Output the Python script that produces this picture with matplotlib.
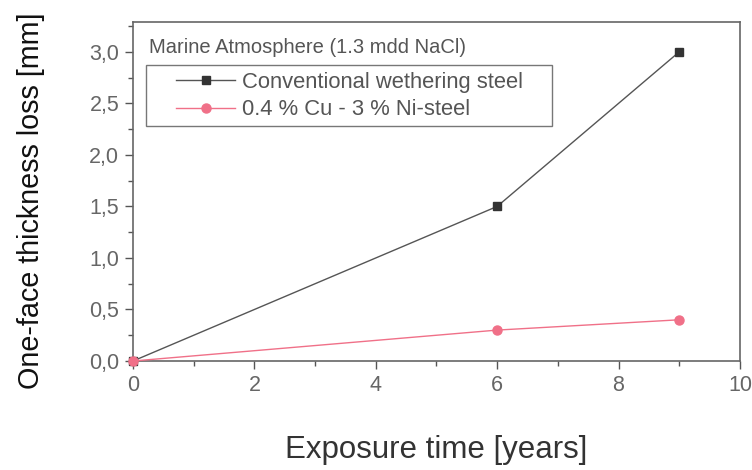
import matplotlib
matplotlib.use("Agg")
import matplotlib.pyplot as plt
from matplotlib.ticker import MultipleLocator, FuncFormatter
from matplotlib.patches import Rectangle

plt.rcParams['font.family'] = ['Liberation Sans', 'DejaVu Sans']

years = [0, 6, 9]
conventional = [0.0, 1.5, 3.0]
cu_ni = [0.0, 0.3, 0.4]
series_labels = ["Conventional wethering steel", "0.4 % Cu - 3 % Ni-steel"]
annotation = "Marine Atmosphere (1.3 mdd NaCl)"

fig = plt.figure(figsize=(7.52, 4.70), dpi=100)
ax = fig.add_axes([0.1769, 0.2319, 0.807, 0.7213])

ax.plot(years, conventional, color='#555555', lw=1.0, marker='s', ms=5.5,
        mfc='#333333', mec='#333333', label=series_labels[0], clip_on=False, zorder=3)
ax.plot(years, cu_ni, color='#f07088', lw=1.0, marker='o', ms=6.5,
        mfc='#f07088', mec='#f07088', label=series_labels[1], clip_on=False, zorder=3)

ax.set_xlim(0, 10)
ax.set_ylim(0, 3.29)
ax.xaxis.set_major_locator(MultipleLocator(2))
ax.xaxis.set_minor_locator(MultipleLocator(1))
ax.yaxis.set_major_locator(MultipleLocator(0.5))
ax.yaxis.set_minor_locator(MultipleLocator(0.25))
ax.yaxis.set_major_formatter(FuncFormatter(lambda v, p: f"{v:.1f}".replace('.', ',')))

ax.tick_params(which='both', direction='out', colors='#555555', labelcolor='#666666',
               labelsize=15.5, top=False, right=False)
ax.tick_params(which='major', length=6, width=1, pad=4)
ax.tick_params(which='minor', length=3.5, width=1)
for s in ax.spines.values():
    s.set_color('#666666')
    s.set_linewidth(1.2)

ax.set_xlabel("Exposure time [years]", fontsize=22.5, color='#333333', labelpad=28)
ax.set_ylabel("One-face thickness loss [mm]", fontsize=20.7, color='#111111')
ax.yaxis.set_label_coords(-0.145, 0.472)

ax.text(0.026, 0.926, annotation, transform=ax.transAxes, fontsize=14.5,
        color='#555555', va='center', ha='left')

ax.add_patch(Rectangle((0.0214, 0.693), 0.690 - 0.0214, 0.873 - 0.693,
                       transform=ax.transAxes, fill=False, edgecolor='#777777',
                       lw=1.0, zorder=4))
leg = ax.legend(loc='center left', bbox_to_anchor=(0.0708, 0.782), fontsize=15.8,
                frameon=False, numpoints=1, handlelength=2.7, borderpad=0,
                labelspacing=0.3, handletextpad=0.3, borderaxespad=0)
for t in leg.get_texts():
    t.set_color('#555555')

fig.savefig("out.png", dpi=100)
